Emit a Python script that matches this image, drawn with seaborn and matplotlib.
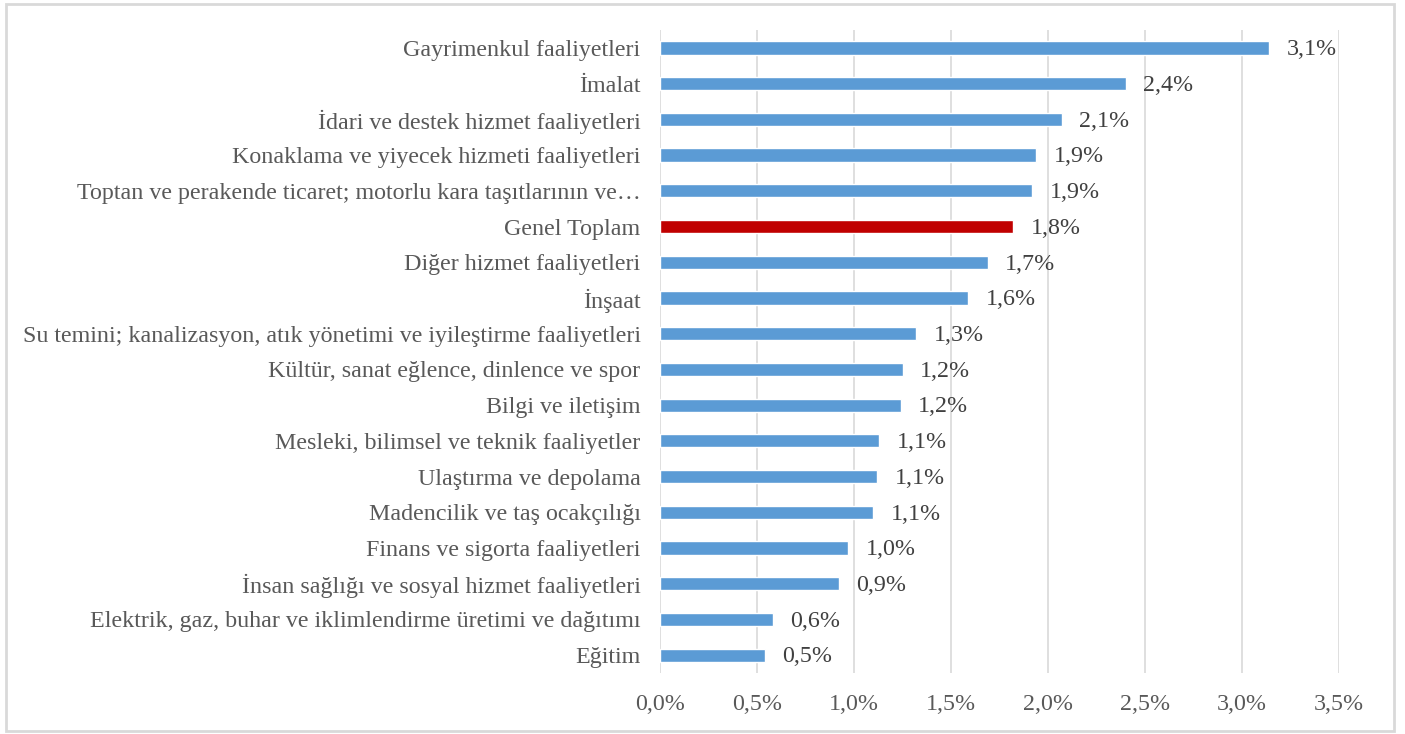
import matplotlib
matplotlib.use('Agg')
import matplotlib.pyplot as plt
import seaborn as sns
import pandas as pd
from matplotlib.patches import Rectangle

sectors = [
    "Gayrimenkul faaliyetleri",
    "İmalat",
    "İdari ve destek hizmet faaliyetleri",
    "Konaklama ve yiyecek hizmeti faaliyetleri",
    "Toptan ve perakende ticaret; motorlu kara taşıtlarının ve…",
    "Genel Toplam",
    "Diğer hizmet faaliyetleri",
    "İnşaat",
    "Su temini; kanalizasyon, atık yönetimi ve iyileştirme faaliyetleri",
    "Kültür, sanat eğlence, dinlence ve spor",
    "Bilgi ve iletişim",
    "Mesleki, bilimsel ve teknik faaliyetler",
    "Ulaştırma ve depolama",
    "Madencilik ve taş ocakçılığı",
    "Finans ve sigorta faaliyetleri",
    "İnsan sağlığı ve sosyal hizmet faaliyetleri",
    "Elektrik, gaz, buhar ve iklimlendirme üretimi ve dağıtımı",
    "Eğitim",
]
values = [3.14, 2.40, 2.07, 1.94, 1.92, 1.82, 1.69, 1.59, 1.32, 1.25,
          1.24, 1.13, 1.12, 1.10, 0.97, 0.92, 0.58, 0.54]
xticks = [0.0, 0.5, 1.0, 1.5, 2.0, 2.5, 3.0, 3.5]

df = pd.DataFrame({"sector": sectors, "value": values})
palette = {s: ("#C00000" if s == "Genel Toplam" else "#5B9BD5") for s in sectors}

sns.set_style("white")
plt.rcParams['font.family'] = ['Liberation Serif', 'DejaVu Serif']
text_color = "#595959"

fig = plt.figure(figsize=(14.05, 7.34), dpi=100)
ax = fig.add_axes([0.4698, 0.0831, 0.953 - 0.4698, 0.959 - 0.0831])

sns.barplot(data=df, x="value", y="sector", hue="sector", palette=palette,
            order=sectors, width=0.37, legend=False, ax=ax, saturation=1)

ax.set_xlim(0, 3.5)
ax.set_xticks(xticks)
ax.set_xticklabels([f"{t:.1f}%".replace(".", ",") for t in xticks],
                   fontsize=17.3, color=text_color)
ax.tick_params(axis='y', labelsize=17.3, labelcolor=text_color, length=0, pad=14)
ax.tick_params(axis='x', length=0, pad=15)
ax.set_xlabel("")
ax.set_ylabel("")
ax.xaxis.grid(True, color="#D9D9D9", linewidth=1.2)
ax.set_axisbelow(True)
for sp in ax.spines.values():
    sp.set_visible(False)

for i, v in enumerate(values):
    ax.text(v + 0.09, i + 0.05, f"{v:.1f}%".replace(".", ","), va='center', ha='left',
            fontsize=17.3, color="#404040")

fig.patches.append(Rectangle((0.004, 0.004), 0.988, 0.991, transform=fig.transFigure,
                             fill=False, edgecolor="#D9D9D9", linewidth=2))

fig.savefig("out.png", dpi=100)
